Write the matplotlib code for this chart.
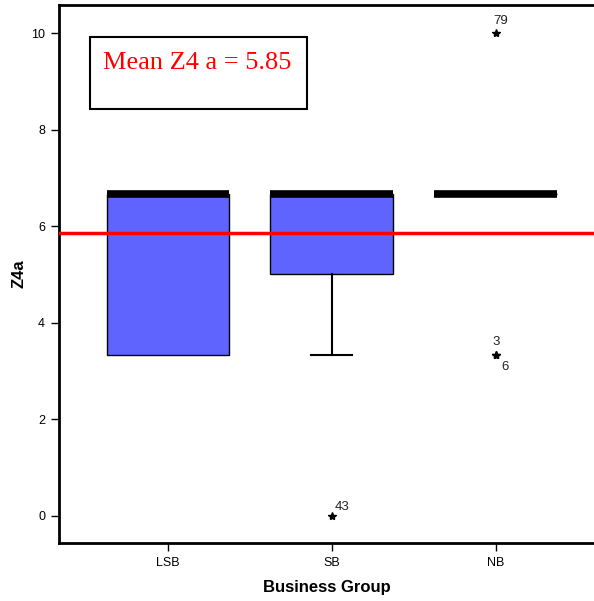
import matplotlib
matplotlib.use("Agg")
import matplotlib.pyplot as plt
from matplotlib.patches import Rectangle

# Z4a by business group (box summary values)
groups = ["LSB", "SB", "NB"]
q1 = [3.33, 5.0, 6.67]
median = [6.67, 6.67, 6.67]
q3 = [6.67, 6.67, 6.67]
whisker_low = [3.33, 3.33, 6.67]
whisker_high = [6.67, 6.67, 6.67]
outliers = [[], [0.0], [10.0, 3.33, 3.33]]
outlier_ids = [[], ["43"], ["79", "3", "6"]]
mean_z4a = 5.85

# label offsets (points) for the outlier case numbers
label_offsets = {"43": (2, 2), "79": (-2, 4), "3": (0, 5), "6": (4, -4)}

plt.rcParams['font.family'] = ['Liberation Sans', 'DejaVu Sans']

fig = plt.figure(figsize=(5.94, 6.01), dpi=100)
ax = fig.add_axes([59 / 594, 58 / 601, 535 / 594, 538 / 601])

stats = []
for i, g in enumerate(groups):
    stats.append(dict(label=g, q1=q1[i], med=median[i], q3=q3[i],
                      whislo=whisker_low[i], whishi=whisker_high[i],
                      fliers=outliers[i]))

art = ax.bxp(stats, positions=[1, 2, 3], widths=0.75, capwidths=0.25,
             patch_artist=True, showfliers=False,
             boxprops=dict(facecolor="#5f64ff", edgecolor="black", linewidth=1),
             medianprops=dict(color="black", linewidth=5.5, solid_capstyle="butt"),
             whiskerprops=dict(color="black", linewidth=1.5),
             capprops=dict(color="black", linewidth=1.5))

# caps that sit on a box edge are not drawn
caps_at = [v for pair in zip(whisker_low, whisker_high) for v in pair]
edges_at = [v for pair in zip(q1, q3) for v in pair]
for cap, c, e in zip(art["caps"], caps_at, edges_at):
    if c == e:
        cap.set_visible(False)

# outliers drawn as stars with case labels
for i, (vals, ids) in enumerate(zip(outliers, outlier_ids)):
    for v, lab in zip(vals, ids):
        ax.plot(i + 1, v, marker="*", color="black", markersize=6, zorder=5)
        dx, dy = label_offsets[lab]
        ha = "center" if lab == "3" else "left"
        va = "top" if dy < 0 else "bottom"
        ax.annotate(lab, (i + 1, v), xytext=(dx, dy), textcoords="offset points",
                    ha=ha, va=va, fontsize=9.5, color="#222222")

ax.axhline(mean_z4a, color="red", linewidth=2.5, zorder=4)

# mean annotation box
ax.add_patch(Rectangle((0.058, 0.807), 0.406, 0.134, transform=ax.transAxes,
                       facecolor="white", edgecolor="black", linewidth=1.5, zorder=6))
ax.text(0.259, 0.892, f"Mean Z4 a = {mean_z4a:.2f}", transform=ax.transAxes,
        ha="center", va="center", color="red", fontsize=19,
        family="Liberation Serif", zorder=7)

ax.set_xlim(0.335, 3.6)
ax.set_ylim(-0.56, 10.58)
ax.set_yticks([0, 2, 4, 6, 8, 10])
ax.set_xticks([1, 2, 3])
ax.set_xticklabels(groups)
ax.tick_params(axis="both", direction="out", length=6, width=1, labelsize=9, pad=4)

for side in ["left", "bottom", "top"]:
    ax.spines[side].set_linewidth(2)
ax.spines["right"].set_visible(False)

ax.set_ylabel("Z4a", fontsize=12, fontweight="bold", labelpad=3)
ax.set_xlabel("Business Group", fontsize=12, fontweight="bold", labelpad=8)

fig.savefig("out.png", dpi=100)
